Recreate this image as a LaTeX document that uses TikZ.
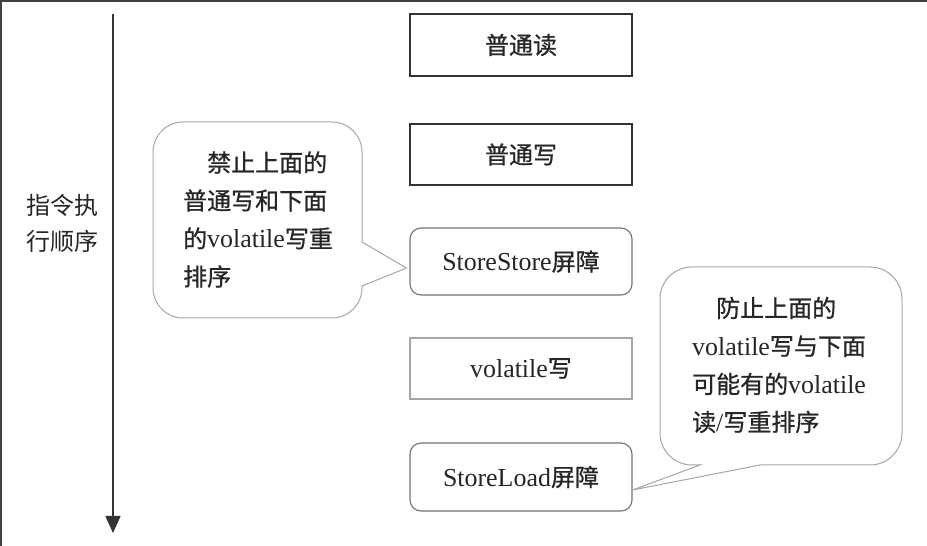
\documentclass[tikz,border=0pt]{standalone}
\usepackage{fontspec}
\setmainfont{Liberation Serif}[Scale=1.08]
\newfontfamily\cjk{Noto Sans CJK SC}
\newfontfamily\cjkb{Noto Sans CJK SC}[FakeBold=0.8]
\usetikzlibrary{arrows.meta}
\tikzset{
  anybox/.style={minimum width=222pt, inner sep=0pt, text=black!85,
    font=\cjkb\fontsize{24}{28}\selectfont},
  hardbox/.style={anybox, draw=black!80, line width=1.4pt},
  softbox/.style={anybox, draw=black!55, line width=1.1pt, rounded corners=11pt},
  lightbox/.style={anybox, draw=black!35, line width=1.1pt},
  bubble/.style={draw=black!35, line width=1pt, fill=white},
  ctext/.style={inner sep=0pt, align=left, text=black!85,
    font=\cjkb\fontsize{24}{38}\selectfont},
  timeline/.style={draw=black!80, line width=1.6pt, -{Triangle[width=15pt,length=17pt]}}
}
\begin{document}
\begin{tikzpicture}[x=1pt,y=1pt]
\useasboundingbox (0,0) rectangle (927,546);
\fill[white] (0,0) rectangle (927,546);
\fill[black!75] (0,544) rectangle (927,546);
\fill[black!75] (0,0) rectangle (1.5,546);

% time arrow and label
\coordinate (atop) at (113,532);
\coordinate (abot) at (113,13);
\draw[timeline] (atop) -- (abot);
\node[font=\cjk\fontsize{24}{36}\selectfont, align=center, text=black!85, inner sep=0pt] (lab) at (63,323) {指令执\\行顺序};

% instruction boxes
\node[hardbox, minimum height=62pt] (r1) at (521,501) {普通读};
\node[hardbox, minimum height=61pt] (w1) at (521,391.5) {普通写};
\node[softbox, minimum height=67pt] (ss) at (521,284.5) {{\rmfamily StoreStore}屏障};
\node[lightbox, minimum height=61pt] (vw) at (521,177.5) {{\rmfamily volatile}写};
\node[softbox, minimum height=68pt] (sl) at (521,69) {{\rmfamily StoreLoad}屏障};

% callout tips
\coordinate (lt) at ([xshift=-3pt,yshift=-6.5pt]ss.west);
\coordinate (rt) at ([yshift=-13pt]sl.east);

% left callout
\draw[bubble] (183,424) -- (332,424) arc[start angle=90,end angle=0,radius=30]
  -- (362,304) -- (lt) -- (362,260) -- (362,258) arc[start angle=0,end angle=-90,radius=30]
  -- (183,228) arc[start angle=270,end angle=180,radius=30]
  -- (153,394) arc[start angle=180,end angle=90,radius=30] -- cycle;
\node[ctext, anchor=west] (lc) at (183,326.5) {\hspace*{1em}禁止上面的\\普通写和下面\\的{\rmfamily volatile}写重\\排序};

% right callout
\draw[bubble] (692,279) -- (870,279) arc[start angle=90,end angle=0,radius=32]
  -- (902,113) arc[start angle=0,end angle=-90,radius=32]
  -- (760,81) -- (rt) -- (700,81) -- (692,81) arc[start angle=270,end angle=180,radius=32]
  -- (660,247) arc[start angle=180,end angle=90,radius=32] -- cycle;
\node[ctext, anchor=west] (rc) at (692,181) {\hspace*{1em}防止上面的\\{\rmfamily volatile}写与下面\\可能有的{\rmfamily volatile}\\读{\rmfamily /}写重排序};
\end{tikzpicture}
\end{document}
